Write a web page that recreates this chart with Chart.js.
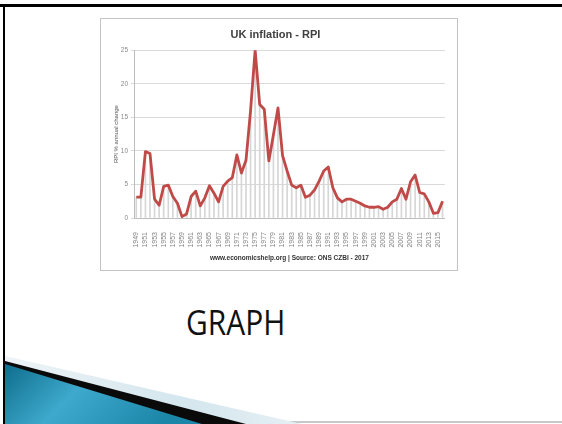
<!DOCTYPE html>
<html>
<head>
<meta charset="utf-8">
<script src="https://cdn.jsdelivr.net/npm/chart.js@4"></script>
<style>
  html, body { margin: 0; padding: 0; }
  body {
    width: 562px; height: 424px; overflow: hidden;
    position: relative; background: #fff;
    font-family: 'Open Sans', sans-serif;
  }
  .deco { position: absolute; left: 0; top: 0; }
  .frame {
    position: absolute; left: 100px; top: 18px;
    width: 358px; height: 253px;
    border: 1px solid #c4c4c4; box-sizing: border-box;
    background: #fff;
  }
  .frame canvas { display: block; }
  .slide-title {
    position: absolute; left: 186px; top: 302px;
    font-size: 34px; color: #111; line-height: 40px;
    transform: scaleX(0.88); transform-origin: left top;
  }
</style>
</head>
<body>

<svg class="deco" width="562" height="424">
  <defs>
    <linearGradient id="pale" x1="0" y1="0" x2="1" y2="0">
      <stop offset="0" stop-color="#eef4f7"/>
      <stop offset="0.6" stop-color="#d4e6ee"/>
      <stop offset="1" stop-color="#e6f0f4"/>
    </linearGradient>
    <linearGradient id="blue" x1="0" y1="0" x2="1" y2="0.3">
      <stop offset="0" stop-color="#0e6d8d"/>
      <stop offset="0.45" stop-color="#3ea9cc"/>
      <stop offset="1" stop-color="#1b86a8"/>
    </linearGradient>
  </defs>
  <!-- slide borders -->
  <rect x="0" y="4" width="562" height="3" fill="#000"/>
  <rect x="3" y="4" width="2" height="420" fill="#000"/>
  <rect x="5" y="421" width="557" height="2" fill="#c8c8c8"/>
  <!-- corner swoosh -->
  <polygon points="5,356 302,424 5,424" fill="url(#pale)"/>
  <polygon points="5,361 246,424 5,424" fill="#0a0a0a"/>
  <polygon points="5,364 202,424 5,424" fill="url(#blue)"/>
</svg>

<div class="frame">
  <canvas id="rpiChart" width="356" height="251"></canvas>
</div>

<div class="slide-title">GRAPH</div>

<script>
/* ===== Data ===== */
const years = [
  '1949', '1950', '1951', '1952', '1953', '1954', '1955', '1956', '1957', '1958',
  '1959', '1960', '1961', '1962', '1963', '1964', '1965', '1966', '1967', '1968',
  '1969', '1970', '1971', '1972', '1973', '1974', '1975', '1976', '1977', '1978',
  '1979', '1980', '1981', '1982', '1983', '1984', '1985', '1986', '1987', '1988',
  '1989', '1990', '1991', '1992', '1993', '1994', '1995', '1996', '1997', '1998',
  '1999', '2000', '2001', '2002', '2003', '2004', '2005', '2006', '2007', '2008',
  '2009', '2010', '2011', '2012', '2013', '2014', '2015', '2016'
];

const rpiChange = [
  3.1, 3.1, 9.9, 9.6, 2.8, 1.9, 4.7, 4.9, 3.2, 2.2,
  0.2, 0.6, 3.2, 4.0, 1.8, 3.0, 4.8, 3.7, 2.4, 4.7,
  5.5, 6.0, 9.4, 6.7, 8.6, 16.0, 25.0, 16.9, 16.2, 8.5,
  12.4, 16.4, 9.3, 7.0, 4.9, 4.5, 4.9, 3.1, 3.4, 4.2,
  5.5, 7.0, 7.6, 4.5, 3.0, 2.4, 2.8, 2.8, 2.5, 2.2,
  1.8, 1.6, 1.6, 1.7, 1.3, 1.6, 2.4, 2.8, 4.4, 2.8,
  5.4, 6.4, 3.8, 3.6, 2.4, 0.7, 0.8, 2.5
];

const yTicks = [0, 5, 10, 15, 20, 25];

const chartTitle = 'UK inflation - RPI';
const yTitle = 'RPI % annual change';
const sourceNote = 'www.economicshelp.org | Source: ONS CZBI - 2017';

/* ===== Chart ===== */
const lineRed = '#bf4a47';
const font = "'Liberation Sans', Arial, sans-serif";

function initRpiChart() {
  const ctx = document.getElementById('rpiChart');
  if (!ctx) return;

  new Chart(ctx, {
    type: 'bar',
    data: {
      labels: years,
      datasets: [
        {
          type: 'line',
          label: 'RPI',
          data: rpiChange,
          borderColor: lineRed,
          borderWidth: 2.8,
          pointRadius: 0,
          tension: 0,
          borderJoinStyle: 'round',
          order: 0
        },
        {
          // thin drop lines from each year down to zero
          label: 'drop',
          data: rpiChange,
          backgroundColor: '#d6d6d6',
          barThickness: 1,
          order: 1
        }
      ]
    },
    options: {
      responsive: false,
      animation: false,
      layout: { padding: { left: 0, right: 7, top: 0, bottom: 0 } },
      scales: {
        x: {
          grid: { display: false },
          border: { color: '#bdbdbd' },
          ticks: {
            autoSkip: false,
            minRotation: 90,
            maxRotation: 90,
            padding: 6,
            color: '#808080',
            font: { family: font, size: 7 },
            callback: (v, i) => (i % 2 === 0 ? years[i] : '')
          },
          title: {
            display: true,
            text: sourceNote,
            color: '#333',
            font: { family: font, size: 6.5, weight: 'bold' },
            padding: { top: 0, bottom: 8 }
          },
          afterFit: (scale) => { scale.height = 52; }
        },
        y: {
          min: 0,
          max: 25,
          afterBuildTicks: (scale) => {
            scale.ticks = yTicks.map(v => ({ value: v }));
          },
          grid: { color: '#d9d9d9', tickLength: 3 },
          border: { color: '#bdbdbd' },
          ticks: {
            padding: 3,
            color: '#8a8a8a',
            font: { family: font, size: 6.5 }
          },
          title: {
            display: true,
            text: yTitle,
            color: '#555',
            font: { family: font, size: 6 },
            padding: { top: 12, bottom: 0 }
          },
          afterFit: (scale) => { scale.width = 33; }
        }
      },
      plugins: {
        legend: { display: false },
        tooltip: { enabled: false },
        title: {
          display: true,
          text: chartTitle,
          color: '#404040',
          font: { family: font, size: 11, weight: 'bold' },
          padding: { top: 9, bottom: 9 }
        }
      }
    }
  });
}

initRpiChart();
</script>
</body>
</html>
